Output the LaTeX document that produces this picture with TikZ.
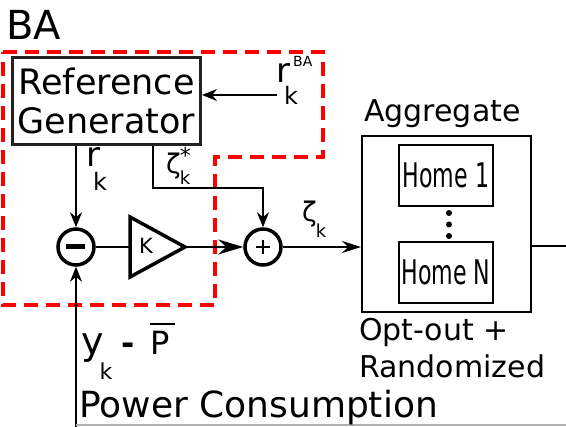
\documentclass[tikz,border=0pt]{standalone}
\usepackage{fontspec}
\setmainfont{DejaVu Sans}
\usetikzlibrary{arrows.meta}
\definecolor{boxdark}{HTML}{222222}
\newcommand{\fsz}[1]{\fontsize{#1}{#1}\selectfont}
\tikzset{
  fs/.style={font=\fontsize{#1}{#1}\selectfont, inner sep=0pt},
  lbl/.style={fs=#1, anchor=base west},
  sumnode/.style={circle, draw, line width=3.5pt, minimum size=36pt, inner sep=0pt},
  wire/.style={line width=2pt},
  tipA/.style={-{Stealth[length=15pt,width=12pt]}},
  tipB/.style={-{Stealth[length=25pt,width=15pt]}},
  homebox/.style={draw, line width=1.5pt, minimum width=94pt, minimum height=61pt, inner sep=0pt},
  dashbox/.style={red, line width=4pt, dash pattern=on 14pt off 8pt},
}
\begin{document}
\begin{tikzpicture}[x=1pt,y=-1pt]
\useasboundingbox (0,0) rectangle (566,427);
% title
\node[lbl=40] (ba) at (6,40) {BA};
% red dashed region
\draw[dashbox] (3,52) -- (323,52) -- (323,157) -- (215,157) -- (215,305) -- (3,305) -- cycle;
% reference generator
\node[draw=boxdark, line width=3pt, minimum width=188pt, minimum height=87pt, inner sep=0pt,
      align=center, font=\fontsize{35}{40}\selectfont] (refgen) at (106.5,101) {Reference\\[-1pt]Generator};
% r_k^BA
\node[lbl=34] (rba) at (276,83) {r\hspace{-6pt}\rlap{\raisebox{-22pt}{\fsz{24}k}}\hspace{9pt}\raisebox{16pt}{\fsz{14}BA}};
\coordinate (rbain) at (277,95);
\draw[wire, tipA] (rbain) -- (refgen.east |- rbain);
% sum nodes
\node[sumnode] (minus) at (76,247) {};
\node[sumnode] (plus) at (263,247) {};
\draw[line width=5pt] ([xshift=-10pt]minus.center) -- ([xshift=9pt]minus.center);
\draw[line width=2pt] ([xshift=-7pt]plus.center) -- ([xshift=7pt]plus.center);
\draw[line width=2pt] ([yshift=-7pt]plus.center) -- ([yshift=7pt]plus.center);
% r_k from generator
\coordinate (rout) at (76,146);
\draw[wire, tipA] (rout) -- (minus.north);
\node[lbl=34] (rk) at (86,167) {r\hspace{-7pt}\raisebox{-24pt}{\fsz{24}k}};
% zeta* from generator
\coordinate (zout) at (153,146);
\coordinate (zbend) at (153,188);
\draw[wire, tipA] (zout) -- (zbend) -| (plus.north);
\node[lbl=27] (zs) at (166,174) {ζ\hspace{-1pt}\rlap{\raisebox{-11pt}{\fsz{18}k}}\raisebox{10pt}{\fsz{22}*}};
% gain
\coordinate (kin) at (130,247);
\coordinate (kout) at (185,247);
\draw[line width=3.5pt, line join=miter] (130,217) -- (185,247) -- (130,277) -- cycle;
\node[fs=21] (kl) at (146,246) {K};
\draw[line width=2.5pt] (minus.east) -- (kin);
\draw[line width=2.5pt, tipB] (kout) -- (plus.west);
% aggregate
\node[draw, line width=2pt, minimum width=169pt, minimum height=176pt, inner sep=0pt] (agg) at (446.5,224) {};
\node[lbl=30] (aggt) at (364,122) {Aggregate};
\node[homebox] (h1) at (446,175.5) {\fsz{34}\scalebox{0.65}[1]{Home 1}};
\node[homebox] (hn) at (446,272.5) {\fsz{34}\scalebox{0.65}[1]{Home N}};
\foreach \yy [count=\i] in {213,224.5,236} \fill (449,\yy) circle (3pt) coordinate (dot\i);
\node[lbl=30] (opt) at (359,341) {Opt-out +};
\node[lbl=30] (rand) at (359,378) {Randomized};
% zeta_k to aggregate
\draw[wire, -{Stealth[length=19pt,width=12pt]}] (plus.east) -- (agg.west |- plus.east);
\node[lbl=27] (zk) at (302,222) {ζ\hspace{-1pt}\raisebox{-16pt}{\fsz{18}k}};
% output
\coordinate (outend) at (566,246);
\draw[wire] (agg.east |- outend) -- (outend);
% feedback
\coordinate (fb) at (76,427);
\draw[wire, tipA] (fb) -- (minus.south);
\coordinate (gl) at (76,425);
\coordinate (gr) at (566,425);
\draw[gray!60, line width=1.2pt] (gl) -- (gr);
% y_k - Pbar
\node[lbl=38] (yk) at (81,355) {y\hspace{-4pt}\raisebox{-25pt}{\fsz{22}k}\hspace{9pt}{\fsz{32}\textbf{-}}\hspace{16pt}{\fsz{32}P}};
\draw[line width=2pt] (150,324) -- (175,324);
% power consumption
\node[lbl=36] (pc) at (79,418) {Power Consumption};
\end{tikzpicture}
\end{document}
